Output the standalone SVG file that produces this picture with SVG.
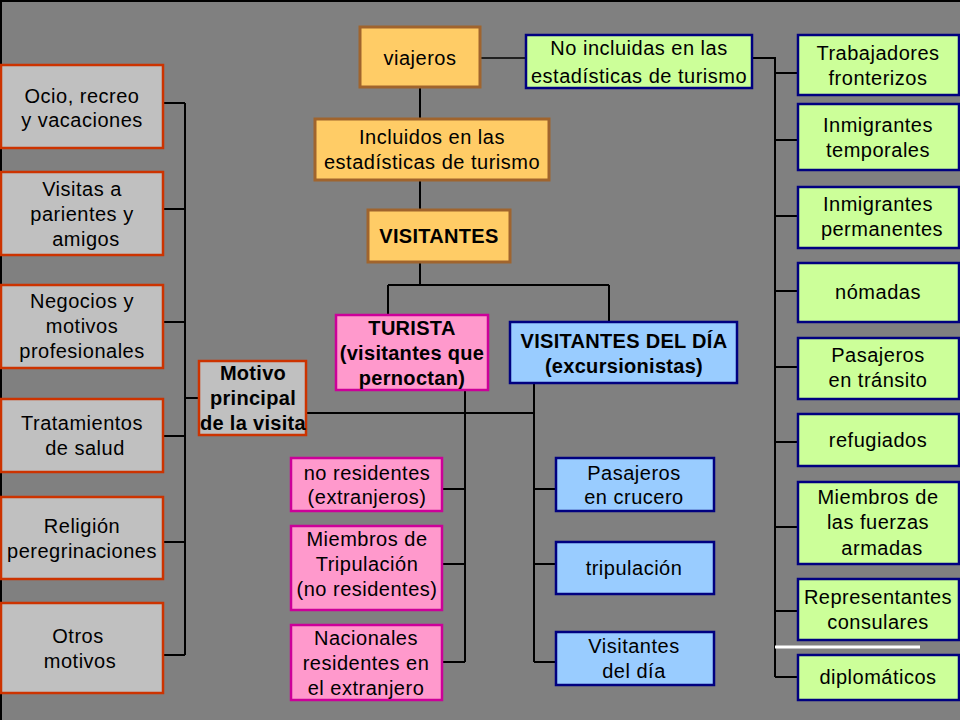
<svg xmlns="http://www.w3.org/2000/svg" width="960" height="720" viewBox="0 0 960 720">
<style>
text{font-family:"Liberation Sans",Arial,sans-serif;font-size:20px;letter-spacing:0.5px;text-anchor:middle;fill:#000}
.b{font-weight:bold;letter-spacing:0.3px}
.or{fill:#FFCC66;stroke:#A0642D;stroke-width:3}
.gr{fill:#CCFF99;stroke:#000080;stroke-width:2.5}
.pk{fill:#FF99CC;stroke:#CC0099;stroke-width:2.5}
.bl{fill:#99CCFF;stroke:#000080;stroke-width:2.5}
.gy{fill:#C0C0C0;stroke:#CC3300;stroke-width:2.5}
.ln{fill:none;stroke:#000;stroke-width:2}
.thin{fill:none;stroke:#000;stroke-width:1.5}
</style>
<rect x="0" y="0" width="960" height="720" fill="#808080"/>
<path d="M1,720 V1 H960" fill="none" stroke="#000" stroke-width="2"/>
<g id="connectors">
<path class="ln" d="M420,88 V119 M420,180 V210 M420,262 V285 M388,285 H609 M388,285 V315 M609,285 V322"/>
<path class="thin" d="M481,58 H526"/>
<path class="ln" d="M752,58 H775 V677 M775,73 H798 M775,140 H798 M775,216 H798 M775,291 H798 M775,367 H798 M775,442 H798 M775,527 H798 M775,611 H798 M775,677 H798"/>
<path class="ln" d="M185,103 V655 M163,103 H185 M163,209 H185 M163,322 H185 M163,436 H185 M163,542 H185 M163,655 H185 M185,398 H199"/>
<path class="ln" d="M306,413 H534 M465,390 V662 M534,383 V662 M442,489 H465 M442,564 H465 M442,662 H465 M534,489 H556 M534,564 H556 M534,662 H556"/>
<path d="M775,647 H920" stroke="#FFFFFF" stroke-width="3"/>
</g>
<g id="viajeros"><rect class="or" x="360" y="27" width="120" height="60"/><text x="420" y="65">viajeros</text></g>
<g id="no-incluidas"><rect class="gr" x="526" y="35" width="226" height="53"/><text x="639" y="55">No incluidas en las</text><text x="639" y="83">estadísticas de turismo</text></g>
<g id="incluidos"><rect class="or" x="315" y="119" width="234" height="61"/><text x="432" y="144">Incluidos en las</text><text x="432" y="169">estadísticas de turismo</text></g>
<g id="visitantes"><rect class="or" x="368" y="210" width="142" height="52"/><text class="b" x="439" y="243">VISITANTES</text></g>
<g id="turista"><rect class="pk" x="336" y="315" width="152" height="75"/><text class="b" x="412" y="335">TURISTA</text><text class="b" x="412" y="360">(visitantes que</text><text class="b" x="412" y="385">pernoctan)</text></g>
<g id="visitantes-dia"><rect class="bl" x="510" y="322" width="227" height="61"/><text class="b" x="624" y="348">VISITANTES DEL DÍA</text><text class="b" x="624" y="373">(excursionistas)</text></g>
<g id="motivo"><rect class="gy" x="199" y="361" width="107" height="74"/><text class="b" x="253" y="380">Motivo</text><text class="b" x="253" y="405">principal</text><text class="b" x="253" y="430">de la visita</text></g>
<g id="no-residentes"><rect class="pk" x="291" y="458" width="151" height="53"/><text x="367" y="480">no residentes</text><text x="367" y="504">(extranjeros)</text></g>
<g id="miembros-tripulacion"><rect class="pk" x="291" y="526" width="151" height="84"/><text x="367" y="546">Miembros de</text><text x="367" y="571">Tripulación</text><text x="367" y="596">(no residentes)</text></g>
<g id="nacionales"><rect class="pk" x="291" y="625" width="151" height="75"/><text x="366" y="645">Nacionales</text><text x="366" y="670">residentes en</text><text x="366" y="695">el extranjero</text></g>
<g id="pasajeros-crucero"><rect class="bl" x="556" y="458" width="158" height="53"/><text x="634" y="480">Pasajeros</text><text x="634" y="504">en crucero</text></g>
<g id="tripulacion"><rect class="bl" x="556" y="542" width="158" height="52"/><text x="634" y="575">tripulación</text></g>
<g id="visitantes-del-dia"><rect class="bl" x="556" y="632" width="158" height="53"/><text x="634" y="653">Visitantes</text><text x="634" y="678">del día</text></g>
<g id="ocio"><rect class="gy" x="1" y="65" width="162" height="83"/><text x="82" y="103">Ocio, recreo</text><text x="82" y="127">y vacaciones</text></g>
<g id="visitas"><rect class="gy" x="1" y="172" width="162" height="83"/><text x="82" y="196">Visitas a</text><text x="82" y="221">parientes y</text><text x="86" y="246">amigos</text></g>
<g id="negocios"><rect class="gy" x="1" y="285" width="162" height="83"/><text x="82" y="308">Negocios y</text><text x="82" y="333">motivos</text><text x="82" y="358">profesionales</text></g>
<g id="tratamientos"><rect class="gy" x="1" y="399" width="162" height="73"/><text x="82" y="430">Tratamientos</text><text x="85" y="455">de salud</text></g>
<g id="religion"><rect class="gy" x="1" y="497" width="162" height="82"/><text x="82" y="533">Religión</text><text x="82" y="558">peregrinaciones</text></g>
<g id="otros"><rect class="gy" x="1" y="603" width="162" height="90"/><text x="78" y="643">Otros</text><text x="80" y="668">motivos</text></g>
<g id="trabajadores"><rect class="gr" x="798" y="35" width="161" height="60"/><text x="878" y="60">Trabajadores</text><text x="878" y="85">fronterizos</text></g>
<g id="inm-temporales"><rect class="gr" x="798" y="104" width="161" height="66"/><text x="878" y="132">Inmigrantes</text><text x="878" y="157">temporales</text></g>
<g id="inm-permanentes"><rect class="gr" x="798" y="187" width="161" height="61"/><text x="878" y="211">Inmigrantes</text><text x="882" y="236">permanentes</text></g>
<g id="nomadas"><rect class="gr" x="798" y="263" width="161" height="59"/><text x="878" y="299">nómadas</text></g>
<g id="pasajeros-transito"><rect class="gr" x="798" y="338" width="161" height="61"/><text x="878" y="362">Pasajeros</text><text x="878" y="387">en tránsito</text></g>
<g id="refugiados"><rect class="gr" x="798" y="414" width="161" height="52"/><text x="878" y="447">refugiados</text></g>
<g id="fuerzas-armadas"><rect class="gr" x="798" y="482" width="161" height="82"/><text x="878" y="504">Miembros de</text><text x="878" y="529">las fuerzas</text><text x="882" y="555">armadas</text></g>
<g id="consulares"><rect class="gr" x="798" y="579" width="161" height="61"/><text x="878" y="604">Representantes</text><text x="878" y="629">consulares</text></g>
<g id="diplomaticos"><rect class="gr" x="798" y="655" width="161" height="45"/><text x="878" y="684">diplomáticos</text></g>
</svg>
